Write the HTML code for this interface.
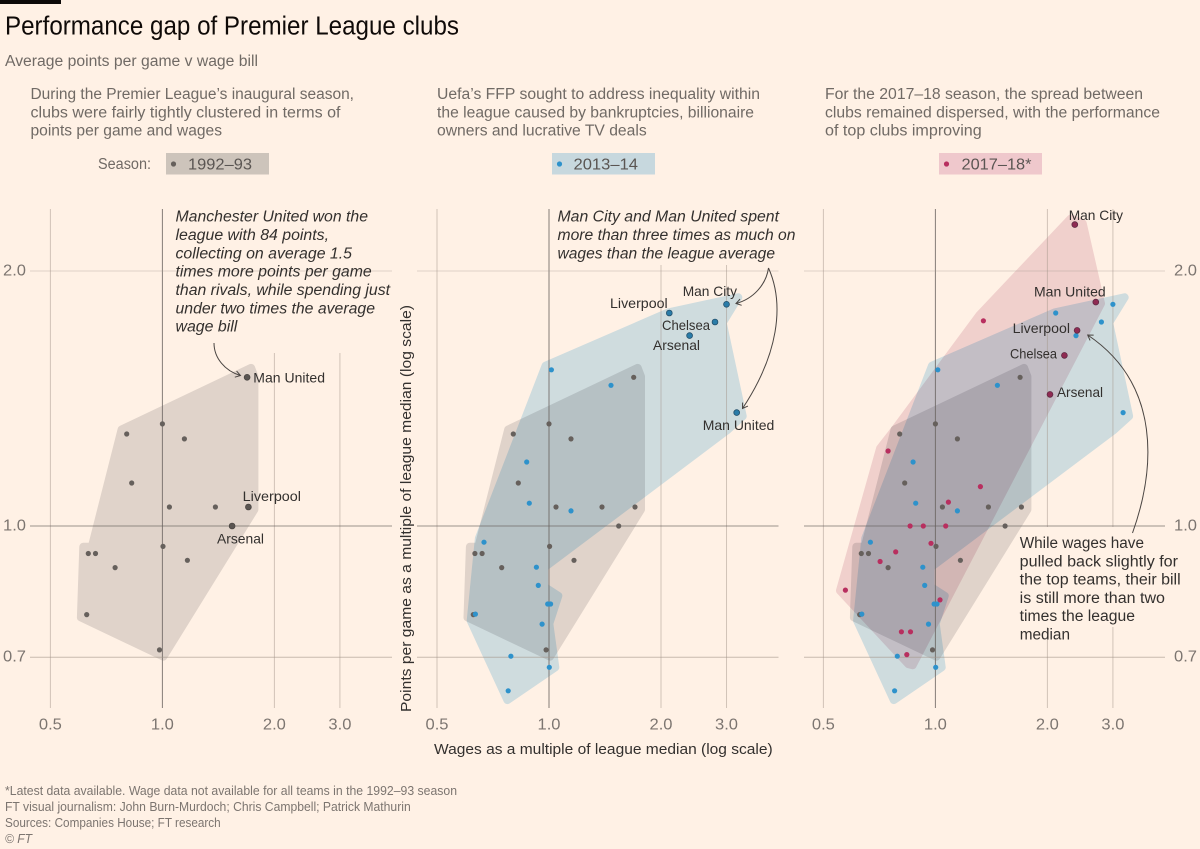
<!DOCTYPE html>
<html lang="en">
<head>
<meta charset="utf-8">
<title>Performance gap of Premier League clubs</title>
<style>
html,body{margin:0;padding:0;background:#fff1e5;}
svg{display:block;}
text{font-family:"Liberation Sans",sans-serif;}
.intro{font-size:15.5px;fill:#706a65;}
.note{font-size:15.5px;fill:#33302e;}
.it{font-style:italic;}
.lab{font-size:14px;fill:#33302e;}
.foot{font-size:12.5px;fill:#7c7570;}
.axt{font-size:15px;fill:#33302e;}
.chip{font-size:15.5px;fill:#5a5552;}
.tick{font-size:15.5px;fill:#7c7570;}
.arrow{fill:none;stroke:#4a4542;stroke-width:1;}
</style>
</head>
<body>
<svg id="chart" xmlns="http://www.w3.org/2000/svg" width="1200" height="849" viewBox="0 0 1200 849">
<defs>
<marker id="open-head" markerWidth="8" markerHeight="8" refX="6.5" refY="4" orient="auto" markerUnits="userSpaceOnUse">
<path d="M1.5,0.8 L6.5,4 L1.5,7.2" fill="none" stroke="#4a4542" stroke-width="1"/>
</marker>
</defs>
<rect width="1200" height="849" fill="#fff1e5"/>
<rect x="0" y="0" width="61" height="4" fill="#0d0a08"/>
<text x="5" y="34.5" font-size="25.5" fill="#0f0a08" textLength="454" lengthAdjust="spacingAndGlyphs">Performance gap of Premier League clubs</text>
<text x="5" y="66" font-size="15.5" fill="#706a65" textLength="253" lengthAdjust="spacingAndGlyphs">Average points per game v wage bill</text>

<g class="intro">
<text x="30.5" y="99" textLength="323.5" lengthAdjust="spacingAndGlyphs">During the Premier League’s inaugural season,</text>
<text x="30.5" y="117.3" textLength="310" lengthAdjust="spacingAndGlyphs">clubs were fairly tightly clustered in terms of</text>
<text x="30.5" y="135.6" textLength="191.5" lengthAdjust="spacingAndGlyphs">points per game and wages</text>
</g>
<g class="intro">
<text x="437" y="99" textLength="323" lengthAdjust="spacingAndGlyphs">Uefa’s FFP sought to address inequality within</text>
<text x="437" y="117.3" textLength="317" lengthAdjust="spacingAndGlyphs">the league caused by bankruptcies, billionaire</text>
<text x="437" y="135.6" textLength="209.7" lengthAdjust="spacingAndGlyphs">owners and lucrative TV deals</text>
</g>
<g class="intro">
<text x="825" y="99" textLength="318" lengthAdjust="spacingAndGlyphs">For the 2017–18 season, the spread between</text>
<text x="825" y="117.3" textLength="335" lengthAdjust="spacingAndGlyphs">clubs remained dispersed, with the performance</text>
<text x="825" y="135.6" textLength="156.7" lengthAdjust="spacingAndGlyphs">of top clubs improving</text>
</g>

<text x="98" y="169" class="intro" textLength="53" lengthAdjust="spacingAndGlyphs">Season:</text>
<g>
<rect x="166" y="153" width="103" height="21.5" fill="#cdc4bb"/>
<circle cx="173.5" cy="164" r="2.6" fill="#66605c"/>
<text x="188" y="169.5" class="chip" textLength="64" lengthAdjust="spacingAndGlyphs">1992–93</text>
</g>
<g>
<rect x="552" y="153" width="103" height="21.5" fill="#c7d8de"/>
<circle cx="559.5" cy="164" r="2.6" fill="#2e92cb"/>
<text x="573.5" y="169.5" class="chip" textLength="64.5" lengthAdjust="spacingAndGlyphs">2013–14</text>
</g>
<g>
<rect x="939" y="153" width="103" height="21.5" fill="#efc8cc"/>
<circle cx="946.5" cy="164" r="2.6" fill="#b82f5f"/>
<text x="961.5" y="169.5" class="chip" textLength="70" lengthAdjust="spacingAndGlyphs">2017–18*</text>
</g>

<g id="plots"></g>

<g class="note it">
<text x="175.5" y="221.7" textLength="192.5" lengthAdjust="spacingAndGlyphs">Manchester United won the</text>
<text x="175.5" y="240" textLength="153.5" lengthAdjust="spacingAndGlyphs">league with 84 points,</text>
<text x="175.5" y="258.3" textLength="176.5" lengthAdjust="spacingAndGlyphs">collecting on average 1.5</text>
<text x="175.5" y="276.7" textLength="196.2" lengthAdjust="spacingAndGlyphs">times more points per game</text>
<text x="175.5" y="294.9" textLength="214.5" lengthAdjust="spacingAndGlyphs">than rivals, while spending just</text>
<text x="175.5" y="313.3" textLength="199.5" lengthAdjust="spacingAndGlyphs">under two times the average</text>
<text x="175.5" y="331.7" textLength="61.8" lengthAdjust="spacingAndGlyphs">wage bill</text>
</g>
<g class="note it">
<text x="557.5" y="221.7" textLength="221.5" lengthAdjust="spacingAndGlyphs">Man City and Man United spent</text>
<text x="557.5" y="240" textLength="238" lengthAdjust="spacingAndGlyphs">more than three times as much on</text>
<text x="557.5" y="258.3" textLength="217.5" lengthAdjust="spacingAndGlyphs">wages than the league average</text>
</g>
<g class="note">
<text x="1019.7" y="548" textLength="124.3" lengthAdjust="spacingAndGlyphs">While wages have</text>
<text x="1019.7" y="566.3" textLength="158.3" lengthAdjust="spacingAndGlyphs">pulled back slightly for</text>
<text x="1019.7" y="584.5" textLength="161" lengthAdjust="spacingAndGlyphs">the top teams, their bill</text>
<text x="1019.7" y="602.8" textLength="145.3" lengthAdjust="spacingAndGlyphs">is still more than two</text>
<text x="1019.7" y="621" textLength="115.3" lengthAdjust="spacingAndGlyphs">times the league</text>
<text x="1019.7" y="639.3" textLength="50.3" lengthAdjust="spacingAndGlyphs">median</text>
</g>

<path class="arrow" marker-end="url(#open-head)" d="M214,343 C214,358 225,371 240.5,375.5"/>
<path class="arrow" marker-end="url(#open-head)" d="M768.5,268 C766,285 753,299 736,303.5"/>
<path class="arrow" marker-end="url(#open-head)" d="M768.5,268 C785,305 778,355 742.5,408.5"/>
<path class="arrow" marker-end="url(#open-head)" d="M1132.5,533 C1155,470 1162,385 1087.7,335"/>

<g class="lab">
<text x="253.3" y="382.7" textLength="71.7" lengthAdjust="spacingAndGlyphs">Man United</text>
<text x="242.7" y="501" textLength="58.3" lengthAdjust="spacingAndGlyphs">Liverpool</text>
<text x="217" y="543.3" textLength="47" lengthAdjust="spacingAndGlyphs">Arsenal</text>
</g>
<g class="lab">
<text x="682.7" y="296" textLength="54.3" lengthAdjust="spacingAndGlyphs">Man City</text>
<text x="610" y="308" textLength="57.7" lengthAdjust="spacingAndGlyphs">Liverpool</text>
<text x="662" y="330" textLength="48" lengthAdjust="spacingAndGlyphs">Chelsea</text>
<text x="653" y="350" textLength="47" lengthAdjust="spacingAndGlyphs">Arsenal</text>
<text x="702.7" y="430" textLength="71.6" lengthAdjust="spacingAndGlyphs">Man United</text>
</g>
<g class="lab">
<text x="1068.7" y="220" textLength="54.3" lengthAdjust="spacingAndGlyphs">Man City</text>
<text x="1034" y="296.7" textLength="71.7" lengthAdjust="spacingAndGlyphs">Man United</text>
<text x="1012.7" y="333" textLength="57.3" lengthAdjust="spacingAndGlyphs">Liverpool</text>
<text x="1010" y="358.3" textLength="47" lengthAdjust="spacingAndGlyphs">Chelsea</text>
<text x="1057" y="397" textLength="46" lengthAdjust="spacingAndGlyphs">Arsenal</text>
</g>

<text class="axt" x="434" y="754" textLength="338.7" lengthAdjust="spacingAndGlyphs">Wages as a multiple of league median (log scale)</text>
<text class="axt" transform="translate(411,712) rotate(-90)" textLength="407" lengthAdjust="spacingAndGlyphs">Points per game as a multiple of league median (log scale)</text>

<g class="foot">
<text x="5" y="795" textLength="452" lengthAdjust="spacingAndGlyphs">*Latest data available. Wage data not available for all teams in the 1992–93 season</text>
<text x="5" y="811" textLength="405.7" lengthAdjust="spacingAndGlyphs">FT visual journalism: John Burn-Murdoch; Chris Campbell; Patrick Mathurin</text>
<text x="5" y="827" textLength="215.7" lengthAdjust="spacingAndGlyphs">Sources: Companies House; FT research</text>
<text x="5" y="843" class="it" textLength="27" lengthAdjust="spacingAndGlyphs">© FT</text>
</g>
</svg>

<script>
// Axis ticks
const xTicks = [0.5, 1, 2, 3];
const yTicks = [2, 1, 0.7];

// 1992-93 season
const clubs1992 = ["Man United", "Liverpool", "Arsenal", "", "", "", "", "", "", "", "", "", "", "", "", ""];
const wages1992 = [1.689, 1.703, 1.539, 1.0, 0.802, 1.146, 0.827, 1.044, 1.388, 1.004, 1.167, 0.632, 0.661, 0.746, 0.626, 0.982];
const points1992 = [1.498, 1.053, 1.0, 1.32, 1.284, 1.267, 1.124, 1.053, 1.053, 0.946, 0.911, 0.928, 0.928, 0.893, 0.786, 0.714];
const hullWages1992 = [1.731, 1.767, 1.767, 1.006, 0.604, 0.613, 0.646, 0.777];
const hullPoints1992 = [1.537, 1.501, 1.046, 0.701, 0.78, 0.945, 0.945, 1.3];

// 2013-14 season
const clubs2013 = ["Man City", "Liverpool", "Chelsea", "Arsenal", "Man United", "", "", "", "", "", "", "", "", "", "", "", "", "", "", ""];
const wages2013 = [3.0, 2.106, 2.794, 2.388, 3.195, 1.015, 1.468, 0.871, 0.885, 1.146, 0.669, 0.925, 0.936, 0.992, 1.01, 0.634, 0.958, 0.79, 1.002, 0.777];
const points2013 = [1.827, 1.784, 1.741, 1.678, 1.361, 1.529, 1.466, 1.19, 1.064, 1.042, 0.957, 0.894, 0.851, 0.809, 0.809, 0.787, 0.766, 0.702, 0.681, 0.639];
const hullWages2013 = [3.227, 2.93, 3.316, 3.003, 0.971, 0.971, 1.059, 1.002, 1.04, 0.773, 0.616, 0.648, 0.979, 2.092];
const hullPoints2013 = [1.862, 1.738, 1.348, 1.296, 0.893, 0.848, 0.827, 0.767, 0.681, 0.623, 0.773, 0.967, 1.546, 1.787];

// 2017-18 season
const clubs2017 = ["Man City", "Man United", "", "Liverpool", "Chelsea", "Arsenal", "", "", "", "", "", "", "", "", "", "", "", "", "", ""];
const wages2017 = [2.369, 2.698, 1.346, 2.403, 2.222, 2.033, 0.746, 1.321, 1.084, 0.855, 0.928, 1.066, 0.973, 0.782, 0.71, 0.573, 1.029, 0.81, 0.857, 0.838];
const points2017 = [2.269, 1.838, 1.747, 1.702, 1.59, 1.43, 1.226, 1.113, 1.067, 1.0, 1.0, 1.0, 0.954, 0.932, 0.908, 0.84, 0.818, 0.75, 0.75, 0.705];
const hullWages2017 = [2.311, 2.488, 2.787, 0.869, 0.846, 0.554, 0.71, 0.776, 1.313];
const hullPoints2017 = [2.307, 2.277, 1.831, 0.685, 0.687, 0.839, 1.235, 1.298, 1.774];

const NS = 'http://www.w3.org/2000/svg';
const plots = document.getElementById('plots');

function xAxis(value, panel) {
  const median = panel === 0 ? 162.4 : panel === 1 ? 549 : 935.4;
  return median + 112 * Math.log2(value);
}
function yAxis(value) {
  return 526 - 255 * Math.log2(value);
}
function hullPath(hullWages, hullPoints, panel) {
  return hullWages.map(function (w, i) {
    return (i ? 'L' : 'M') + xAxis(w, panel).toFixed(1) + ',' + yAxis(hullPoints[i]).toFixed(1);
  }).join(' ') + ' Z';
}

function drawHull(hullWages, hullPoints, panel, colour) {
  const el = document.createElementNS(NS, 'path');
  
  
  el.setAttribute('d', hullPath(hullWages, hullPoints, panel));
  el.setAttribute('fill', colour);
  el.setAttribute('stroke', colour);
  el.setAttribute('stroke-width', '8');
  el.setAttribute('stroke-linejoin', 'round');
  el.style.mixBlendMode = 'multiply';
  plots.appendChild(el);
}

function drawDots(clubs, wages, points, panel, colour, keyColour, keyStroke) {
  wages.forEach(function (w, i) {
    const named = clubs[i] !== '' && keyColour;
    const el = document.createElementNS(NS, 'circle');
    
    
    el.setAttribute('cx', xAxis(w, panel).toFixed(1));
    el.setAttribute('cy', yAxis(points[i]).toFixed(1));
    el.setAttribute('r', named ? '2.9' : '2.6');
    el.setAttribute('fill', named ? keyColour : colour);
    if (named) {
      el.setAttribute('stroke', keyStroke);
      el.setAttribute('stroke-width', '0.8');
    }
    plots.appendChild(el);
  });
}

function drawGrid(panel) {
  const left = panel === 0 ? 30 : panel === 1 ? 417 : 804;
  const right = panel === 0 ? 392 : panel === 1 ? 778.5 : 1165;
  const upperTop = panel === 0 ? 353 : panel === 1 ? 265 : 209;
  xTicks.forEach(function (t) {
    const x = xAxis(t, panel);
    const top = t > 1 ? upperTop : 209;
    // In the third panel the upper gridlines stop behind the annotation text.
    const gapped = panel === 2 && t > 1;
    const spans = gapped ? [[top, 527], [627, 708]] : [[top, 708]];
    spans.forEach(function (span) {
      const line = document.createElementNS(NS, 'line');
      
      
      line.setAttribute('x1', x);
      line.setAttribute('x2', x);
      line.setAttribute('y1', span[0]);
      line.setAttribute('y2', span[1]);
      line.setAttribute('stroke', t === 1 ? '#66605c' : '#a3968b');
      line.setAttribute('stroke-opacity', t === 1 ? '0.8' : '0.5');
      line.setAttribute('stroke-width', '1');
      plots.appendChild(line);
    });
    const label = document.createElementNS(NS, 'text');
    
    
    label.setAttribute('class', 'tick');
    label.setAttribute('x', x);
    label.setAttribute('y', 729.3);
    label.setAttribute('text-anchor', 'middle');
    label.setAttribute('textLength', '23');
    label.setAttribute('lengthAdjust', 'spacingAndGlyphs');
    label.textContent = t.toFixed(1);
    plots.appendChild(label);
  });
  yTicks.forEach(function (t) {
    const y = yAxis(t);
    const line = document.createElementNS(NS, 'line');
    
    
    line.setAttribute('x1', left);
    line.setAttribute('x2', right);
    line.setAttribute('y1', y);
    line.setAttribute('y2', y);
    line.setAttribute('stroke', t === 1 ? '#66605c' : '#a3968b');
    line.setAttribute('stroke-opacity', t === 1 ? '0.65' : t === 2 ? '0.35' : '0.6');
    line.setAttribute('stroke-width', '1');
    plots.appendChild(line);
  });
}

function drawYLabels(x) {
  yTicks.forEach(function (t) {
    const label = document.createElementNS(NS, 'text');
    
    
    label.setAttribute('class', 'tick');
    label.setAttribute('x', x);
    label.setAttribute('y', yAxis(t) + 4.5);
    label.setAttribute('textLength', '23');
    label.setAttribute('lengthAdjust', 'spacingAndGlyphs');
    label.textContent = t.toFixed(1);
    plots.appendChild(label);
  });
}

const GREY = '#e0e0e1', BLUE = '#cfe9f8', RED = '#f0dce3';

// Panel 1
drawHull(hullWages1992, hullPoints1992, 0, GREY);
drawGrid(0);
drawDots(clubs1992, wages1992, points1992, 0, '#66605c', '#5a5552', '#4a4542');

// Panel 2
drawHull(hullWages1992, hullPoints1992, 1, GREY);
drawHull(hullWages2013, hullPoints2013, 1, BLUE);
drawGrid(1);
drawDots(clubs1992, wages1992, points1992, 1, '#66605c');
drawDots(clubs2013, wages2013, points2013, 1, '#2e92cb', '#2a7ca8', '#24506c');

// Panel 3
drawHull(hullWages1992, hullPoints1992, 2, GREY);
drawHull(hullWages2013, hullPoints2013, 2, BLUE);
drawHull(hullWages2017, hullPoints2017, 2, RED);
drawGrid(2);
drawDots(clubs1992, wages1992, points1992, 2, '#66605c');
drawDots(clubs2013, wages2013, points2013, 2, '#2e92cb');
drawDots(clubs2017, wages2017, points2017, 2, '#b82f5f', '#8f2a52', '#5f2a44');

drawYLabels(3);
drawYLabels(1174);
</script>
</body>
</html>
